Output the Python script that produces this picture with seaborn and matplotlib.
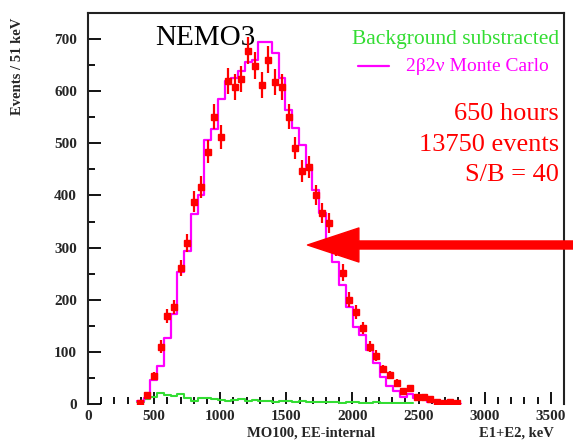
import numpy as np
import pandas as pd
import matplotlib
matplotlib.use("Agg")
import matplotlib.pyplot as plt
import seaborn as sns
from matplotlib.ticker import MultipleLocator

# 51 keV bins, first bin starts at 370 keV
BIN_WIDTH = 51
FIRST_EDGE = 370

data_counts = [2, 17, 54, 110, 169, 186, 261, 309, 388, 416, 484, 551, 512, 620,
               608, 624, 678, 649, 612, 660, 618, 608, 551, 491, 447, 455, 401,
               367, 347, 300, 252, 200, 177, 146, 110, 93, 67, 56, 40, 25, 30,
               13, 13, 9, 4, 2, 3, 1]
data_errors = [1, 4, 7, 12, 13, 14, 16, 18, 20, 21, 22, 24, 23, 25, 25, 25, 26,
               26, 25, 26, 25, 25, 24, 22, 21, 21, 20, 19, 19, 17, 16, 14, 13,
               12, 11, 10, 8, 8, 7, 5, 6, 4, 4, 3, 2, 2, 2, 1]
mc_counts = [5, 11, 46, 73, 127, 173, 253, 293, 365, 400, 507, 528, 585, 620,
             625, 639, 656, 660, 695, 695, 674, 625, 564, 530, 497, 455, 410,
             367, 310, 272, 228, 186, 148, 132, 104, 79, 52, 35, 25, 13, 20,
             11, 10, 4, 3, 2, 1, 0]
bkg_counts = [3, 10, 13, 21, 17, 15, 19, 12, 6, 11, 11, 10, 8, 6, 7, 9, 6, 7,
              5, 6, 4, 6, 5, 4, 6, 3, 4, 3, 4, 3, 2, 3, 3, 2, 2, 3, 2, 2, 2, 1, 1]

info_lines = ["650 hours", "13750 events", "S/B = 40"]

n_bins = len(mc_counts)
edges = FIRST_EDGE + BIN_WIDTH * np.arange(n_bins + 1)
centers = edges[:-1] + BIN_WIDTH / 2
bkg_edges = edges[:len(bkg_counts) + 1]

df = pd.DataFrame({"energy": centers, "data": data_counts, "err": data_errors,
                   "mc": mc_counts})
df_bkg = pd.DataFrame({"energy": centers[:len(bkg_counts)], "bkg": bkg_counts})

sns.set_style("ticks")
plt.rcParams["font.family"] = ["Liberation Serif", "DejaVu Serif"]

fig = plt.figure(figsize=(5.73, 4.46), dpi=100)
ax = fig.add_axes([88 / 573, 1 - 404 / 446, (564 - 88) / 573, (404 - 13) / 446])

MAGENTA = "#ff00ff"
RED = "#ff0000"
GREEN = "#33dd33"

sns.histplot(data=df_bkg, x="energy", weights="bkg", bins=list(bkg_edges),
             element="step", fill=False, color=GREEN, linewidth=1.5, ax=ax)
sns.histplot(data=df, x="energy", weights="mc", bins=list(edges), element="step",
             fill=False, color=MAGENTA, linewidth=1.6, ax=ax)
ax.errorbar(df["energy"], df["data"], yerr=df["err"], fmt="s", color=RED,
            ms=4, elinewidth=1.6, capsize=0, zorder=5)

ax.set_xlim(0, 3600)
ax.set_ylim(0, 750)
ax.set_xlabel("")
ax.set_ylabel("")
ax.xaxis.set_major_locator(MultipleLocator(500))
ax.xaxis.set_minor_locator(MultipleLocator(100))
ax.yaxis.set_major_locator(MultipleLocator(100))
ax.yaxis.set_minor_locator(MultipleLocator(50))
ax.tick_params(which="both", direction="in", width=1.3, color="black")
ax.tick_params(which="major", length=9, labelsize=11)
ax.tick_params(which="minor", length=5)
ax.tick_params(axis="x", pad=4)
ax.tick_params(axis="y", pad=8)
for lab in ax.get_xticklabels() + ax.get_yticklabels():
    lab.set_fontweight("bold")

for side in ["left", "top", "right"]:
    ax.spines[side].set_visible(True)
    ax.spines[side].set_linewidth(1.5)
    ax.spines[side].set_color("#222222")
ax.spines["bottom"].set_visible(False)

# title and legend-like texts
ax.text(885, 702, "NEMO3", fontsize=21, ha="center", va="center", color="black")
ax.text(3560, 700, "Background substracted", fontsize=15.5, ha="right",
        va="center", color=GREEN)
ax.plot([2040, 2280], [648, 648], color=MAGENTA, lw=1.6)
ax.text(3485, 648, "2β2ν Monte Carlo", fontsize=14, ha="right", va="center",
        color=MAGENTA)
for i, line in enumerate(info_lines):
    ax.text(3560, 556 - 58.5 * i, line, fontsize=19, ha="right", va="center",
            color=RED)

# big arrow pointing at the distribution
ax.annotate("", xy=(1660, 305), xytext=(3690, 305), annotation_clip=False,
            arrowprops=dict(arrowstyle="simple,head_length=3.7,head_width=2.45,tail_width=0.58",
                            color=RED, mutation_scale=10, shrinkA=0, shrinkB=0))

fig.text(18 / 573, 1 - 66 / 446, "Events / 51 keV", rotation=90, ha="center",
         va="center", fontsize=10.5, fontweight="bold")
fig.text(311 / 573, 1 - 433 / 446, "MO100, EE-internal", ha="center",
         va="center", fontsize=10.5, fontweight="bold")
fig.text(516 / 573, 1 - 433 / 446, "E1+E2, keV", ha="center", va="center",
         fontsize=10.5, fontweight="bold")

fig.savefig("out.png", dpi=100)
